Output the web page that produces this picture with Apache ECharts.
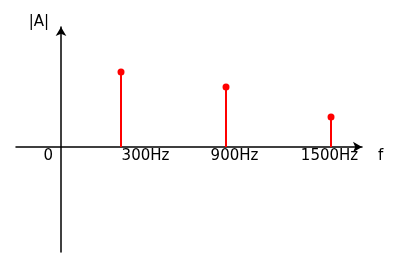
<!DOCTYPE html>
<html>
<head>
<meta charset="utf-8">
<script src="https://cdn.jsdelivr.net/npm/echarts@6/dist/echarts.min.js"></script>
<style>html,body{margin:0;padding:0;background:#fff}#c{width:397px;height:269px}</style>
</head>
<body>
<div id="c"></div>
<script>
var frequencies = [300, 900, 1500];
var amplitudes = [1.0, 0.8, 0.4];
var tickLabels = ['300Hz', '900Hz', '1500Hz'];
var originLabel = '0';
var xName = 'f';
var yName = '|A|';

var points = frequencies.map(function (f, i) { return [f, amplitudes[i]]; });
var richKeys = ['a', 'b', 'c'];
var font = 'DejaVu Sans';

var chart = echarts.init(document.getElementById('c'), null, {renderer: 'canvas'});
chart.setOption({
  animation: false,
  grid: {left: 16, right: 35, top: 27, bottom: 17, containLabel: false},
  xAxis: {
    type: 'value', min: -300, max: 1677,
    position: 'bottom', offset: -105,
    name: '{f|' + xName + '}', nameLocation: 'end', nameGap: 16,
    nameTextStyle: {fontFamily: font, fontSize: 15, color: '#000',
      rich: {f: {fontFamily: font, fontSize: 15, color: '#000', padding: [18, 0, 0, 0]}}},
    axisLine: {onZero: false, symbol: ['none', 'arrow'], symbolSize: [8, 9], lineStyle: {color: '#000', width: 1.5}},
    axisTick: {show: false},
    splitLine: {show: false},
    axisLabel: {
      customValues: frequencies,
      margin: 2,
      fontFamily: font, fontSize: 15, color: '#000',
      formatter: function (v) {
        var i = frequencies.indexOf(v);
        return '{' + richKeys[i] + '|' + tickLabels[i] + '}';
      },
      rich: {
        a: {fontFamily: font, fontSize: 15, color: '#000', padding: [0, 0, 0, 49]},
        b: {fontFamily: font, fontSize: 15, color: '#000', padding: [0, 0, 0, 17]},
        c: {fontFamily: font, fontSize: 15, color: '#000', padding: [0, 3, 0, 0]}
      }
    }
  },
  yAxis: {
    type: 'value', min: -1.4, max: 1.6,
    offset: -45,
    name: yName, nameLocation: 'end', nameGap: -3,
    nameTextStyle: {fontFamily: font, fontSize: 15, color: '#000', align: 'right', padding: [0, 12, 0, 0]},
    axisLine: {show: true, onZero: false, symbol: ['none', 'arrow'], symbolSize: [8, 9], lineStyle: {color: '#000', width: 1.5}},
    axisTick: {show: false},
    splitLine: {show: false},
    axisLabel: {
      customValues: [0],
      margin: 8,
      formatter: function () { return '{o|' + originLabel + '}'; },
      rich: {o: {fontFamily: font, fontSize: 15, color: '#000', padding: [18, 0, 0, 0]}}
    }
  },
  series: [
    {
      type: 'bar', data: points, barWidth: 2,
      itemStyle: {color: '#ff0000', opacity: 1}, silent: true
    },
    {
      type: 'scatter', data: points, symbol: 'circle', symbolSize: 7,
      itemStyle: {color: '#ff0000', opacity: 1}, silent: true
    }
  ]
});
</script>
</body>
</html>
